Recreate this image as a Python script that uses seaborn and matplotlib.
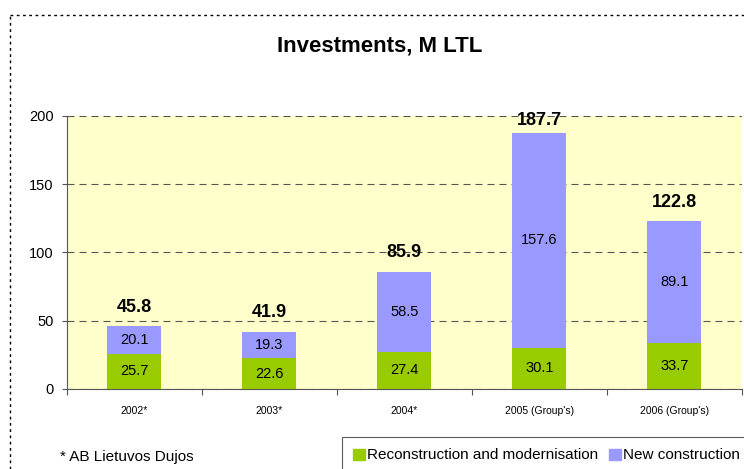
import matplotlib
matplotlib.use("Agg")
import matplotlib.pyplot as plt
import matplotlib.patches as mpatches
import pandas as pd
import seaborn as sns

# chart data
years = ["2002*", "2003*", "2004*", "2005 (Group's)", "2006 (Group's)"]
reconstruction = [25.7, 22.6, 27.4, 30.1, 33.7]
new_construction = [20.1, 19.3, 58.5, 157.6, 89.1]
totals = [45.8, 41.9, 85.9, 187.7, 122.8]

green = "#99CC00"
purple = "#9999FF"

df = pd.DataFrame({"year": years, "recon": reconstruction,
                   "new": new_construction, "total": totals})

sns.set_style("white")
plt.rcParams["font.family"] = ["Liberation Sans", "DejaVu Sans"]
plt.rcParams["text.color"] = "black"
plt.rcParams["xtick.color"] = "black"
plt.rcParams["ytick.color"] = "black"

fig = plt.figure(figsize=(7.44, 4.69), dpi=100)
ax = fig.add_axes([0.090, 0.1706, 0.907, 0.5821])
ax.set_facecolor("#FFFFCC")

# stacked bars: full height in purple, green part drawn over it
sns.barplot(data=df, x="year", y="total", color=purple, width=0.4,
            saturation=1, linewidth=0, ax=ax, zorder=3)
sns.barplot(data=df, x="year", y="recon", color=green, width=0.4,
            saturation=1, linewidth=0, ax=ax, zorder=4)

for i, (r, n, t) in enumerate(zip(reconstruction, new_construction, totals)):
    ax.text(i, r / 2, f"{r}", ha="center", va="center", fontsize=10.5, zorder=5)
    ax.text(i, r + n / 2, f"{n}", ha="center", va="center", fontsize=10.5, zorder=5)
    ax.text(i, min(t + 14, 197), f"{t}", ha="center", va="center", fontsize=13,
            fontweight="bold", zorder=5)

ax.set_ylim(0, 200)
ax.set_xlim(-0.5, 4.5)
ax.set_yticks([0, 50, 100, 150, 200])
ax.yaxis.grid(True, linestyle=(0, (6.3, 4.5)), color="#555555", linewidth=0.8)
ax.xaxis.grid(False)
ax.set_axisbelow(True)
ax.set_xticks([-0.5, 0.5, 1.5, 2.5, 3.5, 4.5])
ax.set_xticklabels([""] * 6)
ax.set_xticks(range(5), minor=True)
ax.set_xticklabels(years, minor=True, fontsize=7.5)
ax.tick_params(axis="x", which="major", length=4, direction="out", color="#555555",
               bottom=True)
ax.tick_params(axis="x", which="minor", length=0, pad=12)
ax.tick_params(axis="y", length=3.6, direction="out", labelsize=10.5, pad=6,
               color="#555555", left=True)
ax.set_xlabel("")
ax.set_ylabel("")
for side in ["top", "right"]:
    ax.spines[side].set_visible(False)
ax.spines["left"].set_color("#555555")
ax.spines["bottom"].set_color("#555555")

fig.text(0.511, 0.902, "Investments, M LTL", ha="center", va="center",
         fontsize=16, fontweight="bold")
fig.text(0.080, 0.026, "* AB Lietuvos Dujos", ha="left", va="center", fontsize=11)

handles = [mpatches.Patch(color=green, label="Reconstruction and modernisation"),
           mpatches.Patch(color=purple, label="New construction")]
leg = fig.legend(handles=handles, loc="upper left", bbox_to_anchor=(0.4597, 0.0682),
                 ncol=2, fontsize=11, frameon=True, fancybox=False,
                 handlelength=0.75, handleheight=0.75, handletextpad=0.15,
                 columnspacing=0.7, borderpad=0.75, borderaxespad=0)
leg.get_frame().set_edgecolor("#333333")
leg.get_frame().set_linewidth(0.8)

# dotted outer frame
fig.add_artist(plt.Line2D([0.0134, 0.0134], [0.0, 0.968], transform=fig.transFigure,
                          color="black", linestyle=(0, (2, 2.5)), linewidth=1))
fig.add_artist(plt.Line2D([0.0134, 1.0], [0.968, 0.968], transform=fig.transFigure,
                          color="black", linestyle=(0, (2, 2.5)), linewidth=1))

fig.savefig("out.png", dpi=100)
